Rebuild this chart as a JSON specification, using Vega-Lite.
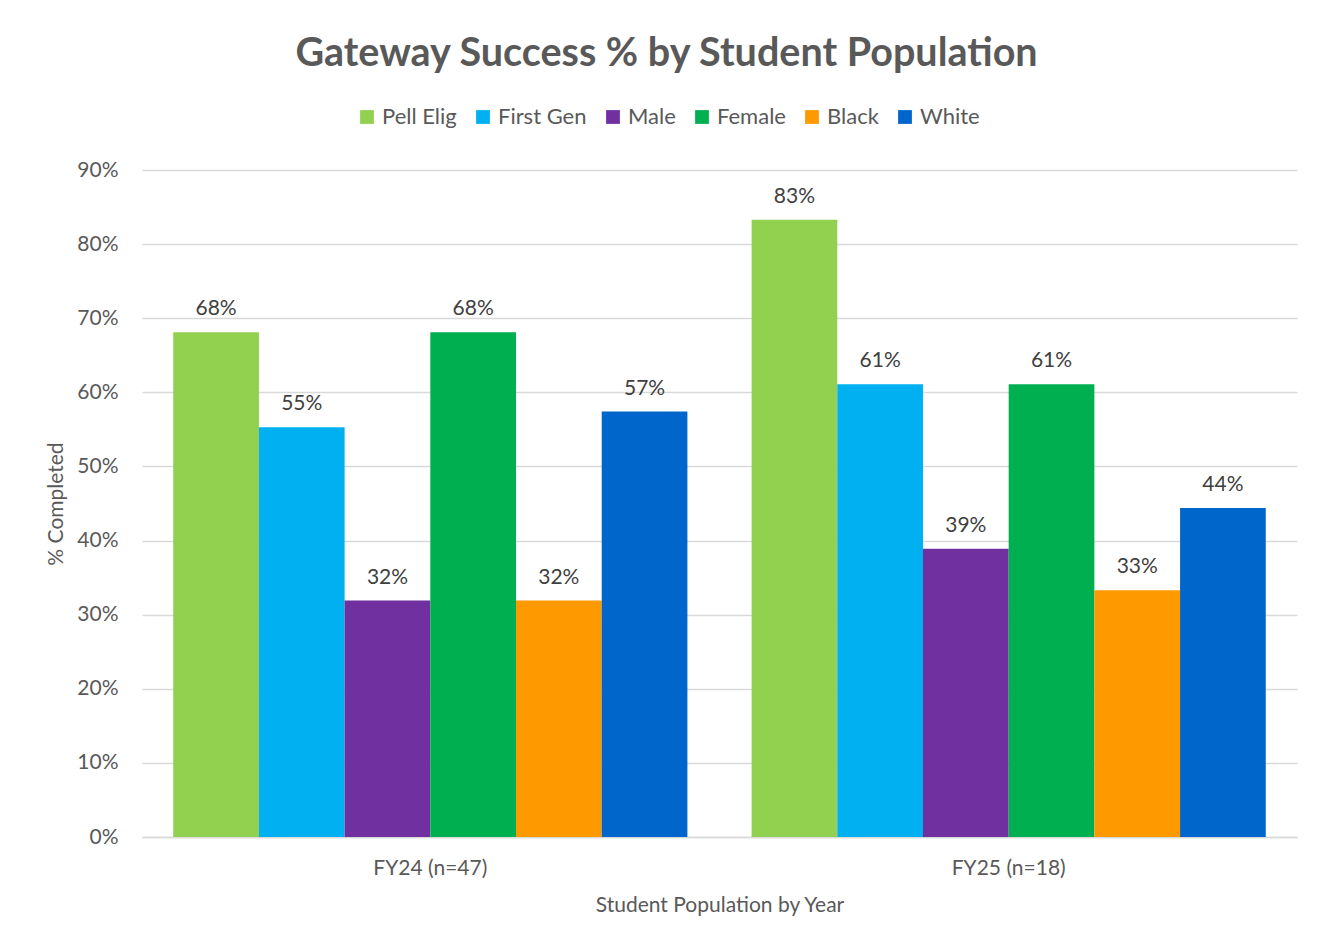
{
  "$schema": "https://vega.github.io/schema/vega-lite/v6.json",
  "width": 1155,
  "height": 667,
  "autosize": {"type": "none"},
  "padding": {"left": 142, "top": 170, "right": 34, "bottom": 109},
  "background": "white",
  "title": {
    "text": "Gateway Success % by Student Population",
    "fontSize": 39.5,
    "font": "Lato",
    "fontWeight": "bold",
    "color": "#595959",
    "anchor": "middle",
    "dx": -53,
    "offset": 32
  },
  "data": {
    "values": [
      {"year": "FY24 (n=47)", "group": "Pell Elig", "pct": 0.681},
      {"year": "FY24 (n=47)", "group": "First Gen", "pct": 0.553},
      {"year": "FY24 (n=47)", "group": "Male", "pct": 0.319},
      {"year": "FY24 (n=47)", "group": "Female", "pct": 0.681},
      {"year": "FY24 (n=47)", "group": "Black", "pct": 0.319},
      {"year": "FY24 (n=47)", "group": "White", "pct": 0.574},
      {"year": "FY25 (n=18)", "group": "Pell Elig", "pct": 0.833},
      {"year": "FY25 (n=18)", "group": "First Gen", "pct": 0.611},
      {"year": "FY25 (n=18)", "group": "Male", "pct": 0.389},
      {"year": "FY25 (n=18)", "group": "Female", "pct": 0.611},
      {"year": "FY25 (n=18)", "group": "Black", "pct": 0.333},
      {"year": "FY25 (n=18)", "group": "White", "pct": 0.444}
    ]
  },
  "encoding": {
    "x": {
      "field": "year",
      "type": "nominal",
      "sort": ["FY24 (n=47)", "FY25 (n=18)"],
      "scale": {"paddingInner": 0.111, "paddingOuter": 0.054},
      "axis": {
        "title": "Student Population by Year",
        "labelAngle": 0,
        "labelFontSize": 21,
        "labelFont": "Lato",
        "labelColor": "#595959",
        "labelPadding": 20,
        "ticks": false,
        "domain": true,
        "domainColor": "#D9D9D9",
        "domainWidth": 1.5,
        "titleFontSize": 21,
        "titleFont": "Lato",
        "titleFontWeight": "normal",
        "titleColor": "#595959",
        "titlePadding": 16
      }
    },
    "xOffset": {
      "field": "group",
      "type": "nominal",
      "sort": ["Pell Elig", "First Gen", "Male", "Female", "Black", "White"],
      "scale": {"paddingInner": 0, "paddingOuter": 0}
    },
    "y": {
      "field": "pct",
      "type": "quantitative",
      "scale": {"domain": [0, 0.9]},
      "axis": {
        "title": "% Completed",
        "format": ".0%",
        "values": [0, 0.1, 0.2, 0.3, 0.4, 0.5, 0.6, 0.7, 0.8, 0.9],
        "labelOverlap": false,
        "labelFontSize": 21,
        "labelFont": "Lato",
        "labelColor": "#595959",
        "labelPadding": 24,
        "ticks": false,
        "domain": false,
        "gridColor": "#D9D9D9",
        "gridWidth": 1.5,
        "titleFontSize": 21,
        "titleFont": "Lato",
        "titleFontWeight": "normal",
        "titleColor": "#595959",
        "titlePadding": 10
      }
    }
  },
  "layer": [
    {
      "mark": {"type": "bar"},
      "encoding": {
        "color": {
          "field": "group",
          "type": "nominal",
          "sort": ["Pell Elig", "First Gen", "Male", "Female", "Black", "White"],
          "scale": {
            "domain": ["Pell Elig", "First Gen", "Male", "Female", "Black", "White"],
            "range": ["#92D050", "#00B0F0", "#7030A0", "#00B050", "#FF9900", "#0066CC"]
          },
          "legend": {
            "title": null,
            "orient": "none",
            "direction": "horizontal",
            "legendX": 214,
            "legendY": -64,
            "symbolType": "square",
            "symbolSize": 190,
            "symbolStrokeWidth": 0,
            "symbolOpacity": 1,
            "labelFontSize": 22,
            "labelFont": "Lato",
            "labelColor": "#595959",
            "labelOffset": 4,
            "columnPadding": 15
          }
        }
      }
    },
    {
      "mark": {
        "type": "text",
        "baseline": "bottom",
        "dy": -13,
        "fontSize": 21,
        "font": "Lato",
        "color": "#404040"
      },
      "encoding": {
        "text": {"field": "pct", "type": "quantitative", "format": ".0%"}
      }
    }
  ],
  "config": {
    "view": {"stroke": null}
  }
}
